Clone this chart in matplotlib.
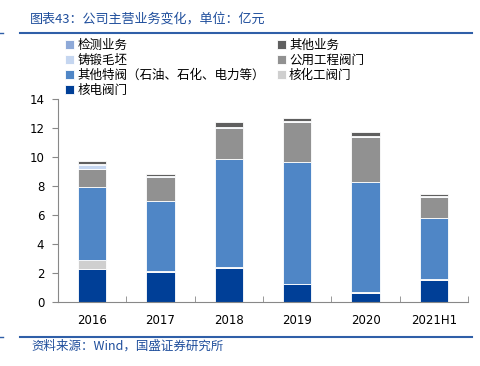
import matplotlib
matplotlib.use("Agg")
import matplotlib.pyplot as plt
from matplotlib.patches import Patch
import numpy as np

plt.rcParams['font.family'] = ['Noto Sans CJK SC', 'DejaVu Sans']

years = ["2016", "2017", "2018", "2019", "2020", "2021H1"]

# stacked from bottom to top
nuclear = [2.28, 2.05, 2.37, 1.22, 0.62, 1.54]          # 核电阀门
chem = [0.62, 0.05, 0.04, 0.05, 0.05, 0.04]             # 核化工阀门
special = [5.03, 4.85, 7.45, 8.40, 7.60, 4.20]          # 其他特阀
utility = [1.24, 1.63, 2.10, 2.75, 3.10, 1.48]          # 公用工程阀门
forging = [0.30, 0.04, 0.05, 0.05, 0.05, 0.05]          # 铸锻毛坯
testing = [0.05, 0.03, 0.02, 0.03, 0.03, 0.02]          # 检测业务
other = [0.22, 0.20, 0.35, 0.20, 0.27, 0.12]            # 其他业务

series = [
    ("核电阀门", nuclear, "#003f97"),
    ("核化工阀门", chem, "#cfcfcf"),
    ("其他特阀（石油、石化、电力等）", special, "#4f86c6"),
    ("公用工程阀门", utility, "#919191"),
    ("铸锻毛坯", forging, "#c5d6f0"),
    ("检测业务", testing, "#8ea9d8"),
    ("其他业务", other, "#5f5f5f"),
]

fig = plt.figure(figsize=(4.8, 3.66), dpi=100)
ax = fig.add_axes([0.121, 0.175, 0.854, 0.555])

x = np.arange(len(years))
bottom = np.zeros(len(years))
handles = {}
for name, vals, col in series:
    b = ax.bar(x, vals, 0.415, bottom=bottom, color=col, edgecolor="white", linewidth=0.6, label=name)
    handles[name] = b
    bottom += np.array(vals)

ax.set_xlim(-0.5, len(years) - 0.5)
ax.set_ylim(0, 14)
ax.set_yticks(range(0, 15, 2))
ax.set_xticks(x)
ax.set_xticklabels(years)
ax.set_xticks(np.arange(-0.5, len(years)), minor=True)
ax.tick_params(axis="x", which="major", length=0, pad=9, labelsize=8.5)
ax.tick_params(axis="x", which="minor", length=4, color="#888888", direction="in")
ax.tick_params(axis="y", length=4, color="#888888", labelsize=8.5, pad=6)
for s in ["top", "right"]:
    ax.spines[s].set_visible(False)
for s in ["left", "bottom"]:
    ax.spines[s].set_color("#888888")
    ax.spines[s].set_linewidth(0.8)
for lab in ax.get_xticklabels() + ax.get_yticklabels():
    lab.set_family("DejaVu Sans")

# legend in two columns, filled column-wise
col1 = ["检测业务", "铸锻毛坯", "其他特阀（石油、石化、电力等）", "核电阀门"]
col2 = ["其他业务", "公用工程阀门", "核化工阀门"]
blank = Patch(color="none")
hs = [handles[n] for n in col1] + [handles[n] for n in col2] + [blank]
ls = col1 + col2 + [""]
leg = fig.legend(hs, ls, ncol=2, loc="upper left", bbox_to_anchor=(0.136, 0.893),
                 frameon=False, fontsize=9, handlelength=0.7, handleheight=0.7,
                 handletextpad=0.25, columnspacing=1.0, labelspacing=0.16,
                 borderaxespad=0, borderpad=0)

title_col = "#1f4e9c"
fig.text(0.062, 0.948, "图表43：公司主营业务变化，单位：亿元", color=title_col,
         fontsize=9.4, style="italic", va="center")
fig.add_artist(plt.Line2D([0.042, 0.984], [0.91, 0.91], color="#2f5fa8", lw=1.5))
fig.add_artist(plt.Line2D([0.0, 0.006], [0.91, 0.91], color="#2f5fa8", lw=1.0))
fig.add_artist(plt.Line2D([0.042, 0.984], [0.08, 0.08], color="#2f5fa8", lw=1.5))
fig.add_artist(plt.Line2D([0.0, 0.006], [0.08, 0.08], color="#2f5fa8", lw=1.0))
fig.text(0.065, 0.054, "资料来源：Wind，国盛证券研究所", color=title_col,
         fontsize=9, style="italic", va="center")

fig.savefig("out.png", dpi=100)
